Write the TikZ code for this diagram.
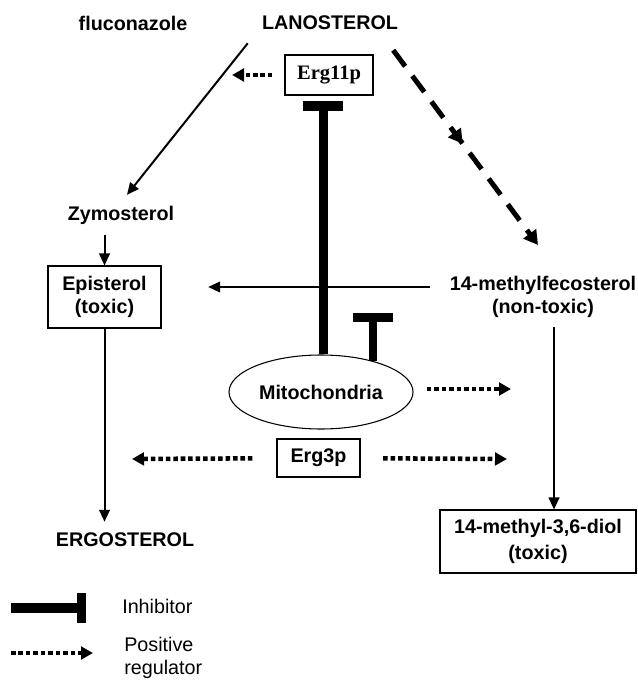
\documentclass[tikz,border=0pt]{standalone}
\usepackage{fontspec}
\setmainfont{Liberation Sans}
\newfontfamily\ergserif{Liberation Serif}
\usetikzlibrary{arrows.meta,shapes.geometric,decorations.markings}

\begin{document}
\begin{tikzpicture}[x=0.75pt,y=-0.75pt,
  font=\fontsize{14.8}{17.3}\selectfont\bfseries,
  every node/.style={inner sep=0pt},
  box/.style={draw,line width=0.8pt,align=center},
  flow/.style={line width=1.5pt,-{Triangle[length=9pt,width=8pt]}},
  posreg/.style={line width=3.4pt,dash pattern=on 3.4pt off 2.2pt,-{Triangle[length=9pt,width=9.5pt]}},
  inhib/.style={line width=6.75pt,-{Rectangle[length=7.5pt,width=30pt]}},
  bigdash/.style={line width=3.75pt,dash pattern=on 15pt off 9pt,-{Triangle[length=10.5pt,width=11.5pt]},
    decoration={markings,mark=at position 0.48 with {\arrow{Triangle[length=10.5pt,width=11.5pt]}}},
    postaction=decorate}]
\useasboundingbox (0,0) rectangle (637,680);

% sterols
\node (fluc) at (133,23) {fluconazole};
\node (lano) at (330,23) {LANOSTEROL};
\node (zymo) at (121,215) {Zymosterol};
\node[box,minimum width=84.75pt,minimum height=46.5pt] (epi) at (104.5,297) {Episterol\\(toxic)};
\node[align=center] (methyl) at (543,297) {14-methylfecosterol\\(non-toxic)};
\node (ergo) at (125,540) {ERGOSTEROL};
\node[box,minimum width=147pt,minimum height=47.25pt,font=\fontsize{14.8}{19.5}\selectfont\bfseries] (diol) at (538,541.5) {14-methyl-3,6-diol\\(toxic)};

% enzymes and mitochondria
\node[box,minimum width=66pt,minimum height=30pt,font=\fontsize{15.4}{18}\selectfont\ergserif\bfseries] (erg11) at (329,75) {Erg11p};
\node[draw,ellipse,line width=0.8pt,minimum width=138pt,minimum height=55.5pt] (mito) at (321,392) {Mitochondria};
\node[box,minimum width=62.25pt,minimum height=28.5pt] (erg3) at (318.5,458) {Erg3p};

% free ends
\coordinate (e11tip) at (232,75);
\coordinate (mitoR) at (511,389);
\coordinate (e3l) at (132,459);
\coordinate (e3r) at (507,459);
\coordinate (mitoT) at (373,313);

% pathway
\draw[flow] ([xshift=-10.5pt,yshift=-9.75pt]lano.south west) -- ([xshift=4.5pt,yshift=8pt]zymo.north);
\draw[bigdash] ([xshift=-3.75pt,yshift=-15pt]lano.south east) -- ([xshift=-3.75pt,yshift=23.25pt]methyl.north);
\draw[flow,shorten <=8pt] (epi.north |- zymo.south) -- (epi.north);
\draw[flow] ([xshift=-15pt,yshift=7.5pt]methyl.west) -- ([xshift=35pt,yshift=7.5pt]epi.east);
\draw[flow,shorten >=8.25pt] (epi.south) -- (epi.south |- ergo.north);
\draw[flow,shorten <=6.75pt] ([xshift=8.25pt]methyl.south) -- ([xshift=8.25pt]methyl.south |- diol.north);

% regulation
\draw[posreg,shorten <=9pt] (erg11) -- (e11tip);
\draw[inhib,shorten >=3.75pt] ([xshift=1.5pt]mito.north) -- ([xshift=1.5pt]mito.north |- erg11.south);
\draw[line width=6pt,-{Rectangle[length=6.75pt,width=30pt]}] (mito.30 -| mitoT) -- (mitoT);
\draw[posreg,shorten <=10pt] (mito.east |- mitoR) -- (mitoR);
\draw[posreg,shorten <=18pt] (erg3) -- (e3l);
\draw[posreg,shorten <=17pt] (erg3) -- (e3r);

% legend
\coordinate (inhA) at (11,608);
\coordinate (inhB) at (86,608);
\coordinate (posA) at (11,653);
\coordinate (posB) at (93,653);
\draw[line width=7.5pt,-{Rectangle[length=6.75pt,width=23pt]}] (inhA) -- (inhB);
\draw[posreg] (posA) -- (posB);
\node[anchor=west,font=\fontsize{14.8}{17.3}\selectfont] (inhlab) at (122,606) {Inhibitor};
\node[anchor=west,align=left,font=\fontsize{14.8}{17.3}\selectfont] (poslab) at (124,658) {Positive\\regulator};
\end{tikzpicture}
\end{document}
